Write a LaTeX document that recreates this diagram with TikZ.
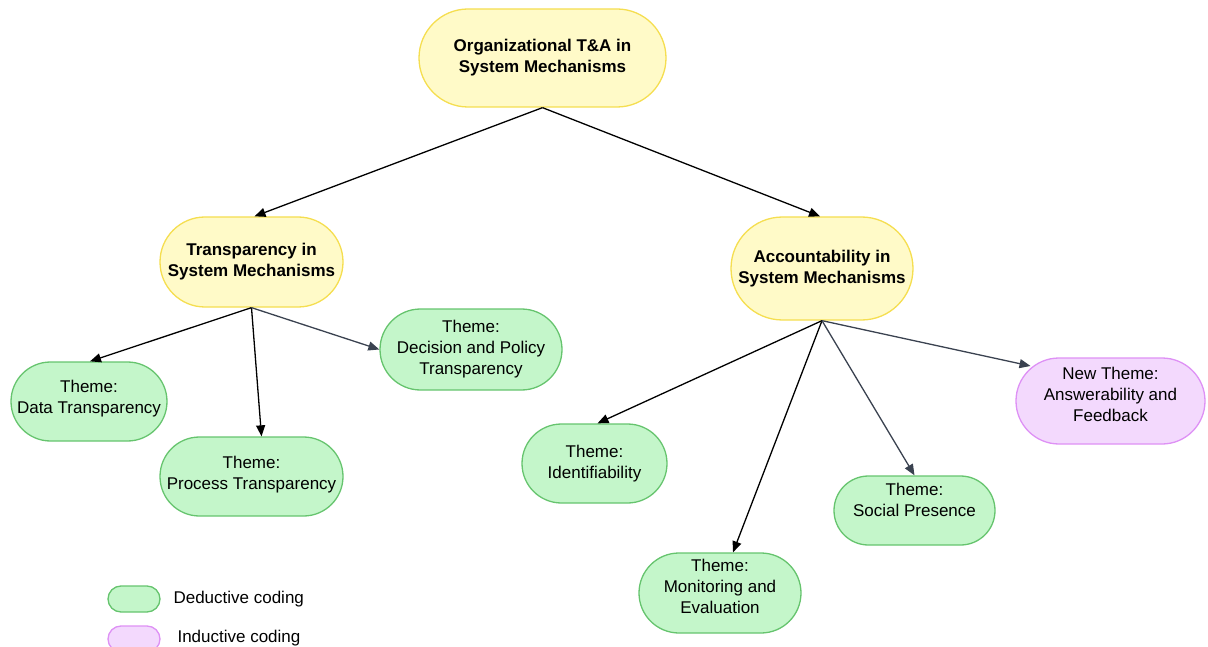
\documentclass[tikz,border=0pt]{standalone}
\usepackage{fontspec}
\setmainfont{Liberation Sans}
\usetikzlibrary{arrows.meta}
\definecolor{yelfill}{RGB}{255,250,200}
\definecolor{yeldraw}{RGB}{245,222,80}
\definecolor{grnfill}{RGB}{196,246,202}
\definecolor{grndraw}{RGB}{102,196,110}
\definecolor{purfill}{RGB}{243,217,253}
\definecolor{purdraw}{RGB}{222,145,245}
\definecolor{slate}{RGB}{58,66,80}
\begin{document}
\begin{tikzpicture}[x=1pt,y=-1pt,
  font=\fontsize{17pt}{21pt}\selectfont,
  pill/.style n args={2}{draw, line width=1.3pt, inner sep=0pt, align=center,
    minimum width=#1, minimum height=#2, rounded corners=#2/2},
  headbox/.style={fill=yelfill, draw=yeldraw, font=\fontsize{17pt}{21pt}\selectfont\bfseries},
  dedbox/.style={fill=grnfill, draw=grndraw},
  indbox/.style={fill=purfill, draw=purdraw},
  % text set a little above the middle of its pill
  raised/.style n args={2}{label={[align=center, inner sep=0pt, yshift=#1]center:#2}},
  conn/.style={-{Triangle[length=11pt,width=9pt]}, line width=1.3pt, black},
  conngray/.style={conn, slate}]
\useasboundingbox (0,0) rectangle (1208,647);

% hierarchy of categories
\node[pill={247pt}{98pt}, headbox] (root) at (542.5,58) {Organizational T\&A in\\System Mechanisms};
\node[pill={183pt}{90pt}, headbox] (trans) at (251.5,262) {Transparency in\\System Mechanisms};
\node[pill={182pt}{103pt}, headbox] (acc) at (822,268.5) {Accountability in\\System Mechanisms};

% transparency themes
\node[pill={156pt}{79pt}, dedbox, raised={3pt}{Theme:\\Data Transparency}] (data) at (89,401.5) {};
\node[pill={183pt}{79pt}, dedbox, raised={2pt}{Theme:\\Process Transparency}] (proc) at (251.5,476.5) {};
\node[pill={182pt}{81pt}, dedbox] (dec) at (471,349.5) {Theme:\\Decision and Policy\\Transparency};

% accountability themes
\node[pill={145pt}{79pt}, dedbox] (ident) at (594.5,463.5) {Theme:\\Identifiability};
\node[pill={162pt}{80pt}, dedbox, raised={7pt}{Theme:\\Monitoring and\\Evaluation}] (mon) at (720,593) {};
\node[pill={161pt}{69pt}, dedbox, raised={11pt}{Theme:\\Social Presence}] (soc) at (914.5,510.5) {};
\node[pill={189pt}{86pt}, indbox, raised={7pt}{New Theme:\\Answerability and\\Feedback}] (answ) at (1110.5,401) {};

% connectors
\draw[conn] (root.south) -- ([xshift=3pt]trans.north);
\draw[conn] (root.south) -- ([xshift=-2pt]acc.north);
\draw[conn] (trans.south) -- ([xshift=1pt]data.north);
\draw[conn] (trans.south) -- ([xshift=10pt]proc.north);
\draw[conngray] (trans.south) -- (dec.west);
\draw[conn] (acc.south) -- ([xshift=3pt]ident.north);
\draw[conn] (acc.south) -- ([xshift=13pt]mon.north);
\draw[conngray] (acc.south) -- (soc.north);
\draw[conngray] (acc.south) -- ([xshift=-80pt,yshift=35pt]answ.center);

% legend
\node[pill={52pt}{26pt}, dedbox] (legd) at (134,599) {};
\node[anchor=west] (legdt) at (170,599) {Deductive coding};
\node[pill={52pt}{26pt}, indbox] (legi) at (134,639) {};
\node[anchor=west] (legit) at (174,638) {Inductive coding};
\end{tikzpicture}
\end{document}
